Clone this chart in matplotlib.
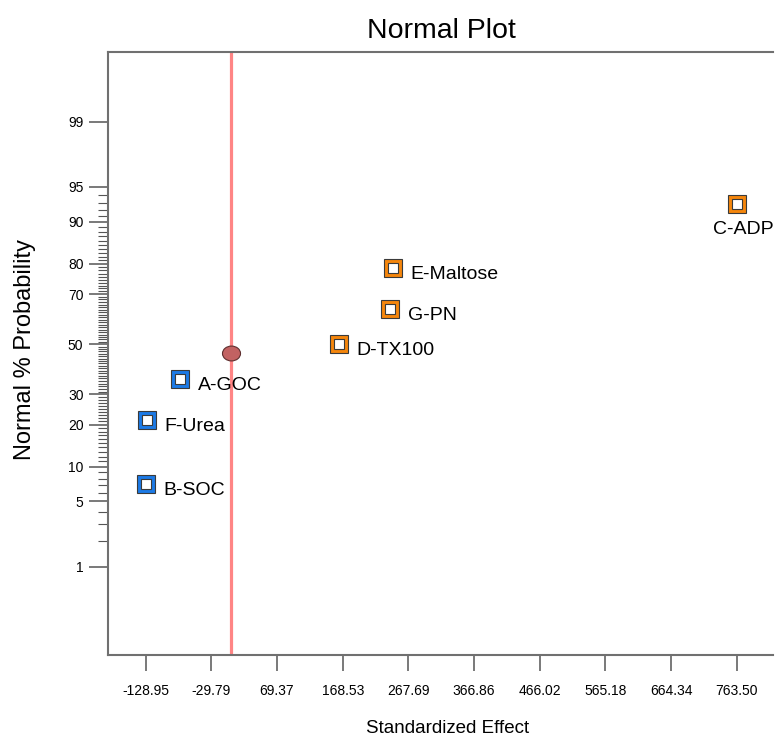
import matplotlib.pyplot as plt
from matplotlib.path import Path
from matplotlib.transforms import Affine2D
from statistics import NormalDist

plt.rcParams['font.family'] = ['Liberation Sans', 'DejaVu Sans']

# effect estimates and their normal probabilities (%)
terms = ['A-GOC', 'B-SOC', 'C-ADP', 'D-TX100', 'E-Maltose', 'F-Urea', 'G-PN']
effects = [-76.5, -128.95, 763.50, 163.0, 244.5, -126.9, 240.6]
probs = [35.71, 7.14, 92.86, 50.0, 78.57, 21.43, 64.29]

# error estimate marker
err_effect = 0.0
err_prob = 46.2

x_ticks = [-128.95, -29.79, 69.37, 168.53, 267.69, 366.86, 466.02, 565.18, 664.34, 763.50]
y_major = [1, 5, 10, 20, 30, 50, 70, 80, 90, 95, 99]
y_minor = [p for p in range(2, 95) if p not in y_major]

POS_COLOR = '#f5860c'
NEG_COLOR = '#1c7ae6'


def z(p):
    """Percent probability to normal quantile."""
    return NormalDist().inv_cdf(p / 100.0)


fig = plt.figure(figsize=(7.76, 7.39), dpi=100)
ax = fig.add_axes([108 / 776, 1 - 655 / 739, 665 / 776, 603 / 739])

ax.axvline(0, color='#ff8585', lw=2.3, zorder=1)

for name, eff, p in zip(terms, effects, probs):
    col = POS_COLOR if eff > 0 else NEG_COLOR
    ax.plot(eff, z(p), marker='s', ms=13, mfc=col, mec='#3a3a3a', mew=0.8, zorder=3)
    ax.plot(eff, z(p), marker='s', ms=6.8, mfc='white', mec='#3a3a3a', mew=0.8, zorder=4)
    if name == 'C-ADP':
        # largest effect sits at the right edge, so its label goes underneath
        ax.annotate(name, (eff, z(p)), xytext=(-17, -18), textcoords='offset points',
                    ha='left', va='center', fontsize=14, annotation_clip=False)
    else:
        ax.annotate(name, (eff, z(p)), xytext=(12.5, -4.5), textcoords='offset points',
                    ha='left', va='center', fontsize=14)

ellipse = Path.unit_circle().transformed(Affine2D().scale(1, 14 / 17))
ax.plot(err_effect, z(err_prob), marker=ellipse, ms=13, mfc='#c26262', mec='#5e2f2f',
        mew=0.8, zorder=5)

ax.set_xlim(-185.9, 818.3)
ax.set_ylim(-3.25, 3.055)

ax.set_xticks(x_ticks)
ax.set_xticklabels(['%.2f' % v for v in x_ticks])
ax.set_yticks([z(p) for p in y_major])
ax.set_yticklabels([str(p) for p in y_major])
ax.set_yticks([z(p) for p in y_minor], minor=True)

ax.tick_params(axis='x', length=11.5, width=1.1, color='#555555', pad=9.5, labelsize=10)
ax.tick_params(axis='y', which='major', length=13.7, width=1.1, color='#555555', pad=4,
               labelsize=10)
ax.tick_params(axis='y', which='minor', length=7, width=0.8, color='#555555')

for side in ['left', 'bottom', 'top']:
    ax.spines[side].set_color('#707070')
    ax.spines[side].set_linewidth(1.5)
ax.spines['right'].set_visible(False)

fig.text(441 / 776, 1 - 38 / 739, 'Normal Plot', ha='center', va='baseline', fontsize=20.5)
fig.text(448 / 776, 6 / 739, 'Standardized Effect', ha='center', va='baseline', fontsize=13.5)
fig.text(25 / 776, 1 - 350 / 739, 'Normal % Probability', rotation=90, ha='center',
         va='center', fontsize=17)

fig.savefig('out.png', dpi=100)
